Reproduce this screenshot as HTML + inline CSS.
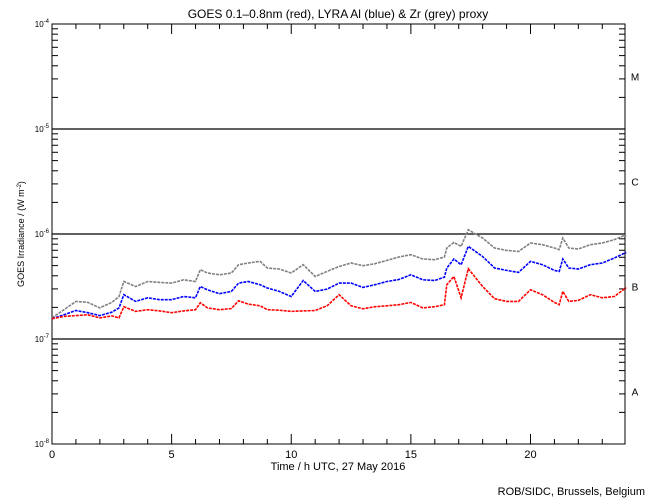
<!DOCTYPE html>
<html><head><meta charset="utf-8"><style>
body{margin:0;background:#fff;}
svg{display:block;font-family:"Liberation Sans",sans-serif;}
</style></head><body>
<svg id="c" width="650" height="500" viewBox="0 0 650 500">
<text x="338" y="18" font-size="12" text-anchor="middle">GOES 0.1–0.8nm (red), LYRA Al (blue) &amp; Zr (grey) proxy</text>
<text x="338" y="470" font-size="11" text-anchor="middle">Time / h UTC, 27 May 2016</text>
<text x="24" y="234" font-size="9" text-anchor="middle" transform="rotate(-90 24 234)">GOES Irradiance / (W m<tspan baseline-shift="super" font-size="6">-2</tspan>)</text>
<text x="645" y="495" font-size="11" text-anchor="end">ROB/SIDC, Brussels, Belgium</text>
<g id="axes"></g>
<g id="series"></g>
</svg>
<script>
const times=[0,0.5,1,1.5,2,2.5,2.8,3,3.5,4,4.5,5,5.5,6,6.2,6.5,7,7.5,7.8,8.2,8.7,9,9.5,10,10.5,11,11.5,12,12.5,13,13.5,14,14.5,15,15.5,16,16.4,16.5,16.8,17.1,17.4,18,18.5,19,19.5,20,20.5,21,21.2,21.35,21.6,22,22.5,23,23.5,24];
// values in units of 1e-7 W/m^2
const goesRed=[1.56,1.64,1.67,1.70,1.59,1.66,1.59,2.03,1.83,1.90,1.85,1.78,1.85,1.90,2.21,1.98,1.90,1.95,2.31,2.15,2.07,1.90,1.88,1.83,1.85,1.87,2.07,2.64,2.07,1.94,2.03,2.07,2.12,2.23,1.98,2.03,2.12,3.29,3.94,2.47,4.67,3.16,2.42,2.28,2.28,2.94,2.64,2.23,2.12,2.84,2.28,2.33,2.64,2.47,2.54,3.08];
const lyraAl=[1.56,1.70,1.87,1.78,1.67,1.80,1.98,2.64,2.28,2.47,2.37,2.37,2.54,2.47,3.16,2.94,2.70,2.84,3.41,3.53,3.29,3.06,2.84,2.54,3.61,2.84,2.99,3.41,3.41,3.10,3.29,3.53,3.69,4.09,3.66,3.61,3.89,4.74,5.78,5.10,7.62,6.11,4.74,4.50,4.31,5.48,5.10,4.50,4.40,5.78,4.74,4.64,5.10,5.29,5.90,6.68];
const lyraZr=[1.59,1.90,2.28,2.23,1.98,2.23,2.54,3.53,3.16,3.53,3.46,3.41,3.66,3.53,4.57,4.25,4.09,4.25,5.10,5.29,5.48,4.74,4.64,4.25,5.10,3.94,4.40,4.90,5.29,4.99,5.21,5.60,6.04,6.35,5.78,5.69,6.04,7.36,8.32,7.62,11.0,9.16,7.36,6.98,6.82,8.21,7.91,7.36,7.10,9.16,7.36,7.19,7.91,8.21,8.83,9.84];
const xTicks=["0","5","10","15","20"];
const yExps=["-4","-5","-6","-7","-8"];
const classes=["M","C","B","A"];

const L=52,R=625,T=24,B=444;
const xs=t=>L+t*(R-L)/23.95;
const ys=v=>T+(-4-Math.log10(v))*(B-T)/4;
const NS="http://www.w3.org/2000/svg";
const axes=document.getElementById('axes'),ser=document.getElementById('series');
function mk(p,tag,attrs){const e=document.createElementNS(NS,tag);for(const k in attrs)e.setAttribute(k,attrs[k]);p.appendChild(e);return e;}

const frame=mk(axes,'rect',{x:L,y:T,width:R-L,height:B-T,fill:'none',stroke:'#000','stroke-width':1});


for(let d=0;d<4;d++){
  const base=Math.pow(10,-5-d);
  if(d<3){const gl=mk(axes,'line',{x1:L,x2:R,y1:ys(base),y2:ys(base),stroke:'#000','stroke-width':1.2});
    
    }
  for(let m=2;m<=9;m++){
    const y=ys(base*m);
    const t1=mk(axes,'line',{x1:L,x2:L+6,y1:y,y2:y,stroke:'#000'});
    
    
    const t2=mk(axes,'line',{x1:R-6,x2:R,y1:y,y2:y,stroke:'#000'});
    
    
  }
}
yExps.forEach((e,i)=>{
  const y=T+i*(B-T)/4;
  const tx=mk(axes,'text',{x:L-3,y:y+3,'font-size':8,'text-anchor':'end'});
  
  
  tx.innerHTML='10<tspan dy="-4" font-size="6">'+e+'</tspan>';
});
classes.forEach((c,i)=>{
  const tx=mk(axes,'text',{x:635,y:T+(i+0.5)*(B-T)/4+4,'font-size':10,'text-anchor':'middle'});
  
  
  tx.textContent=c;
});
for(let h=0;h<=23;h++){
  const x=xs(h),len=h%5===0?10:5;
  const a=mk(axes,'line',{x1:x,x2:x,y1:B,y2:B-len,stroke:'#000'});
  
  
  const b=mk(axes,'line',{x1:x,x2:x,y1:T,y2:T+len,stroke:'#000'});
  
  
}
xTicks.forEach(l=>{
  const tx=mk(axes,'text',{x:xs(+l),y:B+14,'font-size':11,'text-anchor':'middle'});
  
  
  tx.textContent=l;
});
function line(vals,color,name){
  const pts=times.map((t,i)=>xs(t).toFixed(1)+','+ys(vals[i]*1e-7).toFixed(1)).join(' ');
  const p=mk(ser,'polyline',{points:pts,fill:'none',stroke:color,'stroke-width':1.6,'stroke-dasharray':'3 1'});
  
  
}
line(lyraZr,'#808080','lyra-zr-series');
line(lyraAl,'#0000ff','lyra-al-series');
line(goesRed,'#ff0000','goes-series');
</script>
</body></html>
